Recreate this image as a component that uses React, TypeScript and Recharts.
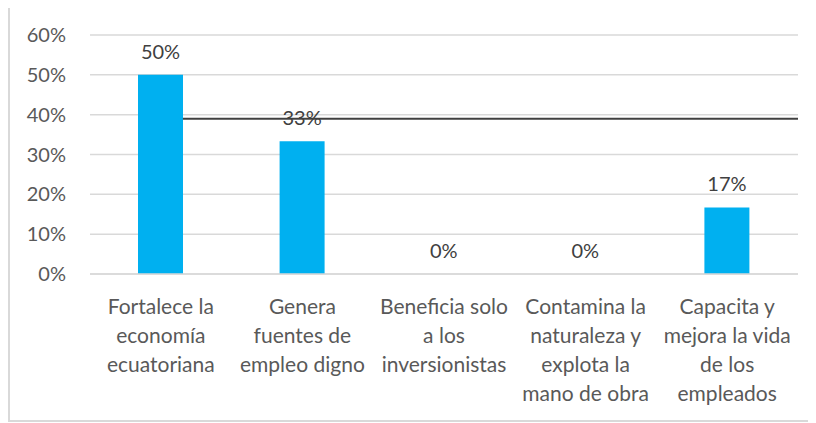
import { BarChart, Bar, XAxis, YAxis, CartesianGrid, LabelList, ReferenceLine } from 'recharts';

const categories = [
  'Fortalece la economía ecuatoriana',
  'Genera fuentes de empleo digno',
  'Beneficia solo a los inversionistas',
  'Contamina la naturaleza y explota la mano de obra',
  'Capacita y mejora la vida de los empleados',
];

// wrapped the way the original chart wraps them
const tickLines = [
  ['Fortalece la', 'economía', 'ecuatoriana'],
  ['Genera', 'fuentes de', 'empleo digno'],
  ['Beneficia solo', 'a los', 'inversionistas'],
  ['Contamina la', 'naturaleza y', 'explota la', 'mano de obra'],
  ['Capacita y', 'mejora la vida', 'de los', 'empleados'],
];

const values = [50, 33.3, 0, 0, 16.7];
const yTicks = [0, 10, 20, 30, 40, 50, 60];

// stray black line across the plot, from the first bar to the right edge
// (x measured on a 0..4 scale spanning the plot width)
const lineLevel = 39;
const lineFrom = 0.525;
const lineTo = 4;

const data = categories.map((name, i) => ({ name, value: values[i] }));

const font = 'Lato, "Open Sans", sans-serif';
const textColor = '#595959';

const CategoryTick = ({ x, y, index }: any) => (
  <text x={x} y={y} textAnchor="middle" fill={textColor} fontSize={21} fontFamily={font}>
    {tickLines[index].map((line, i) => (
      <tspan key={i} x={x} y={y + 32 + i * 29}>
        {line}
      </tspan>
    ))}
  </text>
);

export default function App() {
  return (
    <div
      style={{
        width: 812,
        height: 417,
        marginTop: -3,
        border: '2px solid #D9D9D9',
        boxSizing: 'border-box',
        background: '#fff',
      }}
    >
      <BarChart width={808} height={413} data={data} margin={{ top: 28, right: 20, bottom: 0, left: 0 }}>
        <CartesianGrid vertical={false} stroke="#D9D9D9" strokeWidth={1.5} />
        <XAxis
          dataKey="name"
          height={146}
          interval={0}
          tickLine={false}
          axisLine={{ stroke: '#D9D9D9', strokeWidth: 1.5 }}
          tick={<CategoryTick />}
        />
        <XAxis
          xAxisId="ref"
          orientation="top"
          type="number"
          scale="linear"
          domain={[0, 4]}
          padding={{ left: 0, right: 0 }}
          allowDataOverflow
          hide
        />
        <YAxis
          width={80}
          domain={[0, 60]}
          ticks={yTicks}
          tickFormatter={(v: number) => `${v}%`}
          axisLine={false}
          tickLine={false}
          tickSize={0}
          tickMargin={24}
          tick={{ fill: textColor, fontSize: 20, fontFamily: font }}
        />
        <Bar dataKey="value" fill="#00B0F0" barSize={45} minPointSize={0.1} isAnimationActive={false}>
          <LabelList
            dataKey="value"
            position="top"
            offset={16}
            formatter={(v: any) => `${Math.round(v)}%`}
            fill="#404040"
            fontSize={20}
            fontFamily={font}
          />
        </Bar>
        <ReferenceLine
          xAxisId="ref"
          ifOverflow="visible"
          segment={[
            { x: lineFrom, y: lineLevel },
            { x: lineTo, y: lineLevel },
          ]}
          stroke="#404040"
          strokeWidth={2}
        />
      </BarChart>
    </div>
  );
}
